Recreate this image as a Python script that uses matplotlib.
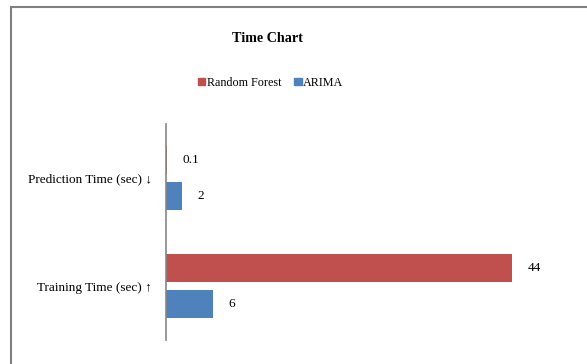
import matplotlib.pyplot as plt
from matplotlib.patches import Rectangle, Patch

plt.rcParams['font.family'] = ['Liberation Serif', 'DejaVu Serif']

categories = ['Training Time (sec) ↑', 'Prediction Time (sec) ↓']
random_forest = [44, 0.1]
arima = [6, 2]

red = '#c0504d'
blue = '#4f81bd'

fig = plt.figure(figsize=(5.87, 3.64), dpi=100)
ax = fig.add_axes([0.2828, 0.066, 0.67, 0.593])

y = range(len(categories))
h = 0.26
off = 0.165
rf_bars = ax.barh([i + off for i in y], random_forest, height=h, color=red,
                  linewidth=0)
ar_bars = ax.barh([i - off for i in y], arima, height=h, color=blue,
                  linewidth=0)
ax.bar_label(rf_bars, labels=[str(v) for v in random_forest], padding=11, fontsize=9.5)
ax.bar_label(ar_bars, labels=[str(v) for v in arima], padding=11, fontsize=9.5)

ax.set_xlim(0, 50)
ax.set_ylim(-0.5, 1.5)
ax.set_yticks(list(y))
ax.set_yticklabels(categories, fontsize=9.5)
ax.tick_params(axis='y', length=0, pad=10)
ax.set_xticks([])
for s in ['top', 'right', 'bottom']:
    ax.spines[s].set_visible(False)
ax.spines['left'].set_color('#868686')
ax.spines['left'].set_linewidth(1.2)

fig.text(0.455, 0.893, 'Time Chart', ha='center', va='center',
         fontsize=10.2, fontweight='bold')

handles = [Patch(color=red, label='Random Forest'), Patch(color=blue, label='ARIMA')]
fig.legend(handles=handles, loc='center', bbox_to_anchor=(0.461, 0.773), ncol=2,
           frameon=False, fontsize=8.7, handlelength=0.6, handleheight=0.6,
           handletextpad=0.1, columnspacing=1.1)

# outer chart frame
fig.patches.append(Rectangle((11 / 587, -0.05), 1.1, 1 - 7 / 364 + 0.05,
                             transform=fig.transFigure, fill=False,
                             edgecolor='#7f7f7f', linewidth=1.5))

fig.savefig('out.png', dpi=100)
